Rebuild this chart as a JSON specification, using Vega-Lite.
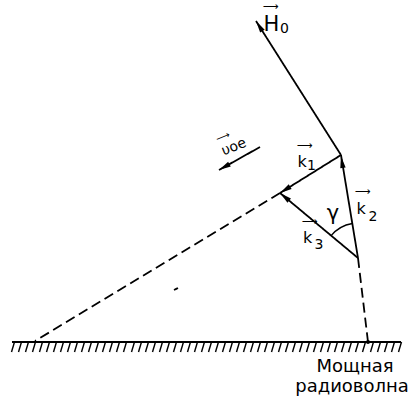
{
  "$schema": "https://vega.github.io/schema/vega-lite/v6.json",
  "width": 417,
  "height": 400,
  "autosize": {"type": "fit", "contains": "padding"},
  "padding": 0,
  "background": "white",
  "config": {"view": {"stroke": null}, "text": {"font": "DejaVu Sans", "color": "black"}},
  "datasets": {
    "lines": [
      {"id": "H0", "x": 341, "y": 155, "x2": 256, "y2": 21, "style": "solid"},
      {"id": "k1", "x": 341, "y": 155, "x2": 280, "y2": 193, "style": "solid"},
      {"id": "k2", "x": 358, "y": 258, "x2": 341, "y2": 155, "style": "solid"},
      {"id": "k3", "x": 358, "y": 258, "x2": 280, "y2": 193, "style": "solid"},
      {"id": "v0e", "x": 260, "y": 147, "x2": 219, "y2": 170, "style": "solid"},
      {"id": "ground", "x": 12, "y": 342, "x2": 401, "y2": 342, "style": "solid"},
      {"id": "mark", "x": 174, "y": 290, "x2": 178, "y2": 288, "style": "solid"},
      {"id": "ray1", "x": 280, "y": 193, "x2": 35, "y2": 341, "style": "dashed"},
      {"id": "ray2", "x": 358, "y": 258, "x2": 368, "y2": 342, "style": "dashed"}
    ],
    "heads": [
      {"id": "H0", "x": 256, "y": 21, "angle": 327.6},
      {"id": "k1", "x": 280, "y": 193, "angle": 238.1},
      {"id": "k2", "x": 341, "y": 156, "angle": 350.6},
      {"id": "k3", "x": 280, "y": 193, "angle": 309.8},
      {"id": "v0e", "x": 219, "y": 170, "angle": 240.7}
    ],
    "arcs": [
      {"id": "gamma", "x": 358, "y": 258, "t1": 309.8, "t2": 350.6}
    ],
    "dots": [
      {"id": "source", "x": 368, "y": 342}
    ],
    "hatches": [
      {"x": 13, "y": 347}, {"x": 20, "y": 347}, {"x": 27, "y": 347}, {"x": 34, "y": 347},
      {"x": 41, "y": 347}, {"x": 48, "y": 347}, {"x": 55, "y": 347}, {"x": 62, "y": 347},
      {"x": 69, "y": 347}, {"x": 76, "y": 347}, {"x": 83, "y": 347}, {"x": 90, "y": 347},
      {"x": 97, "y": 347}, {"x": 104, "y": 347}, {"x": 111, "y": 347}, {"x": 118, "y": 347},
      {"x": 125, "y": 347}, {"x": 133, "y": 347}, {"x": 140, "y": 347}, {"x": 147, "y": 347},
      {"x": 154, "y": 347}, {"x": 161, "y": 347}, {"x": 168, "y": 347}, {"x": 175, "y": 347},
      {"x": 182, "y": 347}, {"x": 189, "y": 347}, {"x": 196, "y": 347}, {"x": 203, "y": 347},
      {"x": 210, "y": 347}, {"x": 217, "y": 347}, {"x": 224, "y": 347}, {"x": 231, "y": 347},
      {"x": 238, "y": 347}, {"x": 245, "y": 347}, {"x": 252, "y": 347}, {"x": 259, "y": 347},
      {"x": 266, "y": 347}, {"x": 273, "y": 347}, {"x": 280, "y": 347}, {"x": 287, "y": 347},
      {"x": 294, "y": 347}, {"x": 301, "y": 347}, {"x": 308, "y": 347}, {"x": 315, "y": 347},
      {"x": 322, "y": 347}, {"x": 329, "y": 347}, {"x": 336, "y": 347}, {"x": 343, "y": 347},
      {"x": 350, "y": 347}, {"x": 357, "y": 347}, {"x": 364, "y": 347}, {"x": 372, "y": 347},
      {"x": 379, "y": 347}, {"x": 386, "y": 347}, {"x": 393, "y": 347}, {"x": 400, "y": 347}
    ],
    "labels": [
      {"t": "H", "x": 271.5, "y": 25, "kind": "big"},
      {"t": "0", "x": 284.5, "y": 29, "kind": "sub"},
      {"t": "⟶", "x": 271, "y": 7, "kind": "arr"},
      {"t": "k", "x": 302, "y": 162, "kind": "k"},
      {"t": "1", "x": 311.5, "y": 166, "kind": "sub"},
      {"t": "⟶", "x": 305, "y": 146, "kind": "arr"},
      {"t": "k", "x": 361, "y": 209, "kind": "k"},
      {"t": "2", "x": 373, "y": 217, "kind": "sub"},
      {"t": "⟶", "x": 363, "y": 192, "kind": "arr"},
      {"t": "k", "x": 307.5, "y": 238, "kind": "k"},
      {"t": "3", "x": 319, "y": 245, "kind": "sub"},
      {"t": "⟶", "x": 310, "y": 222, "kind": "arr"},
      {"t": "γ", "x": 333, "y": 214, "kind": "big"},
      {"t": "Мощная", "x": 355, "y": 372, "kind": "cap"},
      {"t": "радиоволна", "x": 352, "y": 392, "kind": "cap"},
      {"t": "υoe", "x": 234, "y": 147, "kind": "rot"},
      {"t": "⟶", "x": 223, "y": 137, "kind": "rotarr"}
    ]
  },
  "layer": [
    {
      "data": {"name": "lines"},
      "mark": {"type": "rule", "strokeWidth": 1.8, "color": "black"},
      "encoding": {
        "x": {"field": "x", "type": "quantitative", "scale": {"domain": [0, 417], "nice": false, "zero": false}, "axis": null},
        "y": {"field": "y", "type": "quantitative", "scale": {"domain": [0, 400], "nice": false, "zero": false, "reverse": true}, "axis": null},
        "x2": {"field": "x2"},
        "y2": {"field": "y2"},
        "strokeDash": {"field": "style", "type": "nominal", "scale": {"domain": ["solid", "dashed"], "range": [[1, 0], [10, 5]]}, "legend": null}
      }
    },
    {
      "data": {"name": "hatches"},
      "mark": {"type": "point", "shape": "M0.3,-1L-0.3,1", "size": 100, "filled": false, "stroke": "black", "strokeWidth": 1.4, "opacity": 1},
      "encoding": {
        "x": {"field": "x", "type": "quantitative", "scale": {"domain": [0, 417], "nice": false, "zero": false}, "axis": null},
        "y": {"field": "y", "type": "quantitative", "scale": {"domain": [0, 400], "nice": false, "zero": false, "reverse": true}, "axis": null}
      }
    },
    {
      "data": {"name": "heads"},
      "mark": {"type": "point", "shape": "M0,0L0.45,2L-0.45,2Z", "size": 144, "filled": true, "color": "black", "opacity": 1, "strokeWidth": 0},
      "encoding": {
        "x": {"field": "x", "type": "quantitative", "scale": {"domain": [0, 417], "nice": false, "zero": false}, "axis": null},
        "y": {"field": "y", "type": "quantitative", "scale": {"domain": [0, 400], "nice": false, "zero": false, "reverse": true}, "axis": null},
        "angle": {"field": "angle", "type": "quantitative", "scale": null}
      }
    },
    {
      "data": {"name": "dots"},
      "mark": {"type": "point", "shape": "circle", "size": 16, "filled": true, "color": "black", "opacity": 1},
      "encoding": {
        "x": {"field": "x", "type": "quantitative", "scale": {"domain": [0, 417], "nice": false, "zero": false}, "axis": null},
        "y": {"field": "y", "type": "quantitative", "scale": {"domain": [0, 400], "nice": false, "zero": false, "reverse": true}, "axis": null}
      }
    },
    {
      "data": {"name": "arcs"},
      "mark": {"type": "arc", "radius": 35, "radius2": 35, "filled": false, "stroke": "black", "strokeWidth": 1.4},
      "encoding": {
        "x": {"field": "x", "type": "quantitative", "scale": {"domain": [0, 417], "nice": false, "zero": false}, "axis": null},
        "y": {"field": "y", "type": "quantitative", "scale": {"domain": [0, 400], "nice": false, "zero": false, "reverse": true}, "axis": null},
        "theta": {"field": "t1", "type": "quantitative", "stack": null, "scale": {"domain": [0, 360], "range": [0, 6.283185307]}},
        "theta2": {"field": "t2"}
      }
    },
    {
      "data": {"name": "labels"},
      "transform": [{"filter": "datum.kind === 'big'"}],
      "mark": {"type": "text", "fontSize": 21, "align": "center", "baseline": "middle"},
      "encoding": {
        "x": {"field": "x", "type": "quantitative", "scale": {"domain": [0, 417], "nice": false, "zero": false}, "axis": null},
        "y": {"field": "y", "type": "quantitative", "scale": {"domain": [0, 400], "nice": false, "zero": false, "reverse": true}, "axis": null},
        "text": {"field": "t"}
      }
    },
    {
      "data": {"name": "labels"},
      "transform": [{"filter": "datum.kind === 'k'"}],
      "mark": {"type": "text", "fontSize": 16, "align": "center", "baseline": "middle"},
      "encoding": {
        "x": {"field": "x", "type": "quantitative", "scale": {"domain": [0, 417], "nice": false, "zero": false}, "axis": null},
        "y": {"field": "y", "type": "quantitative", "scale": {"domain": [0, 400], "nice": false, "zero": false, "reverse": true}, "axis": null},
        "text": {"field": "t"}
      }
    },
    {
      "data": {"name": "labels"},
      "transform": [{"filter": "datum.kind === 'sub'"}],
      "mark": {"type": "text", "fontSize": 14, "align": "center", "baseline": "middle"},
      "encoding": {
        "x": {"field": "x", "type": "quantitative", "scale": {"domain": [0, 417], "nice": false, "zero": false}, "axis": null},
        "y": {"field": "y", "type": "quantitative", "scale": {"domain": [0, 400], "nice": false, "zero": false, "reverse": true}, "axis": null},
        "text": {"field": "t"}
      }
    },
    {
      "data": {"name": "labels"},
      "transform": [{"filter": "datum.kind === 'arr'"}],
      "mark": {"type": "text", "fontSize": 11, "align": "center", "baseline": "middle"},
      "encoding": {
        "x": {"field": "x", "type": "quantitative", "scale": {"domain": [0, 417], "nice": false, "zero": false}, "axis": null},
        "y": {"field": "y", "type": "quantitative", "scale": {"domain": [0, 400], "nice": false, "zero": false, "reverse": true}, "axis": null},
        "text": {"field": "t"}
      }
    },
    {
      "data": {"name": "labels"},
      "transform": [{"filter": "datum.kind === 'cap'"}],
      "mark": {"type": "text", "fontSize": 18, "align": "center", "baseline": "alphabetic"},
      "encoding": {
        "x": {"field": "x", "type": "quantitative", "scale": {"domain": [0, 417], "nice": false, "zero": false}, "axis": null},
        "y": {"field": "y", "type": "quantitative", "scale": {"domain": [0, 400], "nice": false, "zero": false, "reverse": true}, "axis": null},
        "text": {"field": "t"}
      }
    },
    {
      "data": {"name": "labels"},
      "transform": [{"filter": "datum.kind === 'rot'"}],
      "mark": {"type": "text", "fontSize": 14, "align": "center", "baseline": "middle", "angle": 338},
      "encoding": {
        "x": {"field": "x", "type": "quantitative", "scale": {"domain": [0, 417], "nice": false, "zero": false}, "axis": null},
        "y": {"field": "y", "type": "quantitative", "scale": {"domain": [0, 400], "nice": false, "zero": false, "reverse": true}, "axis": null},
        "text": {"field": "t"}
      }
    },
    {
      "data": {"name": "labels"},
      "transform": [{"filter": "datum.kind === 'rotarr'"}],
      "mark": {"type": "text", "fontSize": 10, "align": "center", "baseline": "middle", "angle": 338},
      "encoding": {
        "x": {"field": "x", "type": "quantitative", "scale": {"domain": [0, 417], "nice": false, "zero": false}, "axis": null},
        "y": {"field": "y", "type": "quantitative", "scale": {"domain": [0, 400], "nice": false, "zero": false, "reverse": true}, "axis": null},
        "text": {"field": "t"}
      }
    }
  ]
}
